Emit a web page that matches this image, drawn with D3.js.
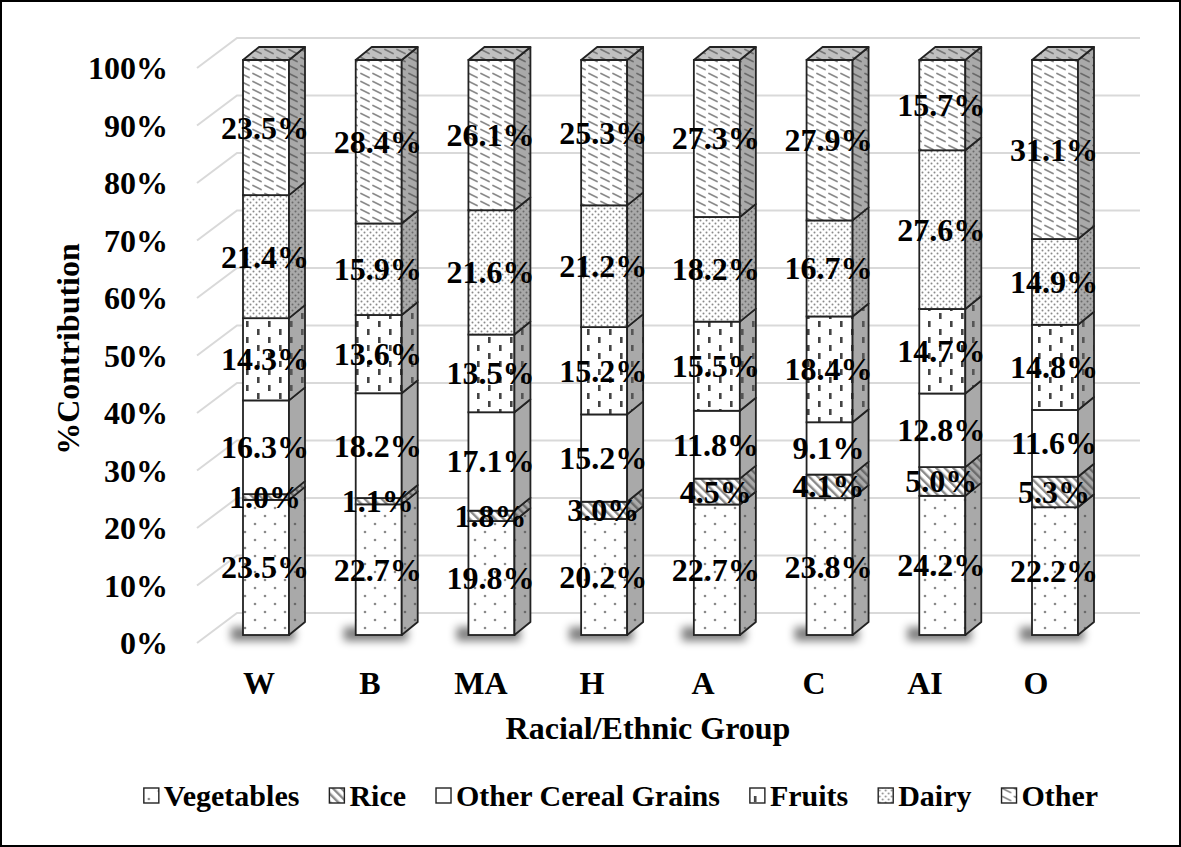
<!DOCTYPE html>
<html>
<head>
<meta charset="utf-8">
<script src="https://cdn.jsdelivr.net/npm/d3@7"></script>
<style>
html,body{margin:0;padding:0;background:#fff;}
svg{display:block;}
text{font-family:"Liberation Serif","Times New Roman",serif;font-weight:bold;fill:#000;}
</style>
</head>
<body>
<svg id="chart" width="1181" height="847"></svg>
<script>
const categories = ["W","B","MA","H","A","C","AI","O"];
const seriesNames = ["Vegetables","Rice","Other Cereal Grains","Fruits","Dairy","Other"];
const vegetables  = [23.5,22.7,19.8,20.2,22.7,23.8,24.2,22.2];
const rice        = [1.0,1.1,1.8,3.0,4.5,4.1,5.0,5.3];
const otherCereal = [16.3,18.2,17.1,15.2,11.8,9.1,12.8,11.6];
const fruits      = [14.3,13.6,13.5,15.2,15.5,18.4,14.7,14.8];
const dairy       = [21.4,15.9,21.6,21.2,18.2,16.7,27.6,14.9];
const other       = [23.5,28.4,26.1,25.3,27.3,27.9,15.7,31.1];
const tickValues  = [0,0.1,0.2,0.3,0.4,0.5,0.6,0.7,0.8,0.9,1.0];
const tickLabels  = ["0%","10%","20%","30%","40%","50%","60%","70%","80%","90%","100%"];
const xTitle = "Racial/Ethnic Group";
const yTitle = "%Contribution";

const seriesArrays = [vegetables, rice, otherCereal, fruits, dairy, other];
const keys = ["veg","rice","ocg","fruits","dairy","other"];
const table = categories.map((c,i)=>{
  const o = {cat:c};
  keys.forEach((k,j)=>o[k]=seriesArrays[j][i]);
  return o;
});
const stacked = d3.stack().keys(keys).offset(d3.stackOffsetExpand)(table);

const svg = d3.select("#chart");
const defs = svg.append("defs");

function pat(id,w,h,bg,draw,transform){
  const p = defs.append("pattern").attr("id",id).attr("patternUnits","userSpaceOnUse")
    .attr("width",w).attr("height",h);
  if(transform) p.attr("patternTransform",transform);
  p.append("rect").attr("width",w).attr("height",h).attr("fill",bg);
  draw(p);
}
function makeSet(suffix,bg,mark,mark2,stripe){
  pat("veg"+suffix,20,16,bg,p=>{
    p.append("circle").attr("cx",5).attr("cy",4).attr("r",1.3).attr("fill",mark);
    p.append("circle").attr("cx",15).attr("cy",12).attr("r",1.3).attr("fill",mark);
  });
  pat("rice"+suffix,6,6,bg,p=>{
    p.append("rect").attr("x",0).attr("y",0).attr("width",2.4).attr("height",6).attr("fill",stripe);
  },"rotate(-45)");
  pat("ocg"+suffix,10,10,bg,p=>{});
  pat("fruits"+suffix,22,16,bg,p=>{
    p.append("rect").attr("x",4).attr("y",1).attr("width",2.6).attr("height",6).attr("fill",mark2);
    p.append("rect").attr("x",15).attr("y",9).attr("width",2.6).attr("height",6).attr("fill",mark2);
  });
  pat("dairy"+suffix,6,6,bg,p=>{
    p.append("circle").attr("cx",1.5).attr("cy",1.5).attr("r",1).attr("fill",mark);
    p.append("circle").attr("cx",4.5).attr("cy",4.5).attr("r",1).attr("fill",mark);
  });
  pat("other"+suffix,12,8,bg,p=>{
    p.append("line").attr("x1",1).attr("y1",1.5).attr("x2",9).attr("y2",5.5)
      .attr("stroke",mark).attr("stroke-width",1.7).attr("stroke-linecap","round");
  });
}
makeSet("F","#ffffff","#8a8a8a","#444","#8a8a8a");
makeSet("S","#a9a9a9","#6a6a6a","#555","#6a6a6a");
makeSet("T","#c0c0c0","#777","#555","#777");

const blur = defs.append("filter").attr("id","shadowBlur").attr("x","-50%").attr("y","-100%").attr("width","200%").attr("height","300%");
blur.append("feGaussianBlur").attr("stdDeviation",4);

const yFront = d3.scaleLinear().domain([0,1]).range([635,60]);
const yBack  = d3.scaleLinear().domain([0,1]).range([613,38]);
const xBar   = d3.scalePoint().domain(categories).range([243,1032]);
const xLab   = d3.scalePoint().domain(categories).range([259,1036]);
const barW = 46, dx = 16, dy = -13;
const FS = 32;

svg.append("rect").attr("x",1).attr("y",1).attr("width",1179).attr("height",845)
  .attr("fill","none").attr("stroke","#000").attr("stroke-width",2);

const grid = svg.append("g");
tickValues.forEach(v=>{
  const yb = yBack(v);
  grid.append("path").attr("d",`M197,${yb+30}L237,${yb}L1140,${yb}`)
    .attr("fill","none").attr("stroke","#d9d9d9").attr("stroke-width",2);
});

svg.append("g").selectAll("text").data(tickValues).join("text")
  .attr("x",168).attr("y",v=>yBack(v)+30).attr("text-anchor","end")
  .attr("dominant-baseline","central").attr("font-size",FS)
  .text((v,i)=>tickLabels[i]);

svg.append("g").selectAll("rect").data(categories).join("rect")
  .attr("x",c=>xBar(c)-12).attr("y",yFront(0)-8).attr("width",barW+18).attr("height",14)
  .attr("fill","#000").attr("opacity",0.5).attr("filter","url(#shadowBlur)");

const stroke = "#222", sw = 1.8;
const bars = svg.append("g");
categories.forEach((c,i)=>{
  const g = bars.append("g");
  const x0 = xBar(c);
  stacked.forEach((s,j)=>{
    const d = s[i];
    const yt = yFront(d[1]), yb = yFront(d[0]);
    g.append("rect").attr("x",x0).attr("y",yt).attr("width",barW).attr("height",yb-yt)
      .attr("fill",`url(#${keys[j]}F)`).attr("stroke",stroke).attr("stroke-width",sw);
    g.append("path")
      .attr("d",`M${x0+barW},${yt}L${x0+barW+dx},${yt+dy}L${x0+barW+dx},${yb+dy}L${x0+barW},${yb}Z`)
      .attr("fill",`url(#${keys[j]}S)`).attr("stroke",stroke).attr("stroke-width",sw).attr("stroke-linejoin","round");
  });
  const top = stacked[stacked.length-1][i];
  const yt = yFront(top[1]);
  g.append("path")
    .attr("d",`M${x0},${yt}L${x0+dx},${yt+dy}L${x0+barW+dx},${yt+dy}L${x0+barW},${yt}Z`)
    .attr("fill",`url(#${keys[keys.length-1]}T)`).attr("stroke",stroke).attr("stroke-width",sw).attr("stroke-linejoin","round");
});

const labels = svg.append("g");
stacked.forEach((s,j)=>{
  s.forEach((d,i)=>{
    const c = categories[i];
    labels.append("text")
      .attr("x",xBar(c)+barW/2-1).attr("y",(yFront(d[0])+yFront(d[1]))/2)
      .attr("text-anchor","middle").attr("dominant-baseline","central").attr("font-size",FS)
      .text(d3.format(".1f")(seriesArrays[j][i])+"%");
  });
});

svg.append("g").selectAll("text").data(categories).join("text")
  .attr("x",c=>xLab(c)).attr("y",683).attr("text-anchor","middle")
  .attr("dominant-baseline","central").attr("font-size",FS).text(c=>c);

svg.append("text").attr("x",648).attr("y",728).attr("text-anchor","middle")
  .attr("dominant-baseline","central").attr("font-size",FS).text(xTitle);
svg.append("text").attr("transform","translate(68,349) rotate(-90)").attr("text-anchor","middle")
  .attr("dominant-baseline","central").attr("font-size",FS).text(yTitle);

const legend = svg.append("g");
const items = seriesNames.map((n,j)=>{
  const g = legend.append("g");
  g.append("rect").attr("x",0).attr("y",-7).attr("width",15).attr("height",15)
    .attr("fill",`url(#${keys[j]}F)`).attr("stroke","#222").attr("stroke-width",1.4);
  const t = g.append("text").attr("x",20).attr("y",0).attr("dominant-baseline","central")
    .attr("font-size",30).text(n);
  return {g, w: 20 + t.node().getComputedTextLength()};
});
const gap = 30;
const total = d3.sum(items,d=>d.w) + gap*(items.length-1);
let cx = 621 - total/2;
items.forEach(it=>{ it.g.attr("transform",`translate(${cx},795)`); cx += it.w + gap; });
</script>
</body>
</html>
